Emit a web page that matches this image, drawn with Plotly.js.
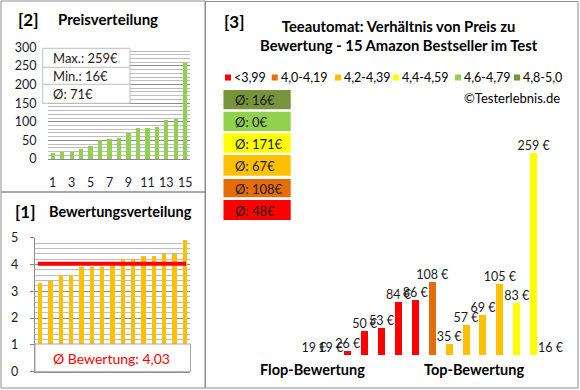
<!DOCTYPE html>
<html><head><meta charset="utf-8">
<script src="https://cdn.plot.ly/plotly-3.0.1.min.js"></script>
<style>html,body{margin:0;padding:0;background:#fff;}#chart{width:580px;height:390px;}</style>
</head><body><div id="chart"></div>
<script>
// ---------- data ----------
const productIndex = [1,2,3,4,5,6,7,8,9,10,11,12,13,14,15];
const productPrices = [19,19,26,50,53,84,86,108,35,57,69,105,83,259,16];
const productRatings = [3.3,3.4,3.6,3.6,3.9,3.9,3.9,4.1,4.2,4.2,4.3,4.3,4.4,4.4,4.9];
const bandLabels = ['<3,99','4,0-4,19','4,2-4,39','4,4-4,59','4,6-4,79','4,8-5,0'];
const bandLower = [0,4.0,4.2,4.4,4.6,4.8];
const priceTickVals = [1,3,5,7,9,11,13,15];

// ---------- styles ----------
const bandColors = ['#FF0000','#E46C0A','#FFC000','#FFFF00','#92D050','#77933C'];
const FONT = 'Lato, "Open Sans", sans-serif';
const W = 580, H = 390;
const px = x => x / W;
const py = y => 1 - y / H;

// ---------- derived ----------
const sortedPrices = productPrices.slice().sort((a,b)=>a-b);
const sortedRatings = productRatings.slice().sort((a,b)=>a-b);
const bandOf = r => { let b = 0; bandLower.forEach((l,i)=>{ if (r >= l - 1e-9) b = i; }); return b; };
const productBands = productRatings.map(bandOf);
const bandAvg = bandLabels.map((_,i)=>{
  const v = productPrices.filter((p,k)=>productBands[k]===i);
  return v.length ? Math.round(v.reduce((a,b)=>a+b,0)/v.length) : 0;
});
const maxPrice = Math.max(...productPrices), minPrice = Math.min(...productPrices);
const avgPrice = Math.round(productPrices.reduce((a,b)=>a+b,0)/productPrices.length);
const avgRating = productRatings.reduce((a,b)=>a+b,0)/productRatings.length;

const yMin3 = 21.7;

const traces = [
  { type:'bar', x: productIndex, y: sortedPrices, xaxis:'x', yaxis:'y',
    marker:{color:'#92D050'}, width:0.45, hoverinfo:'skip' },
  { type:'bar', x: productIndex, y: sortedRatings, xaxis:'x2', yaxis:'y2',
    marker:{color:'#FFC000'}, width:0.42, hoverinfo:'skip' },
  { type:'scatter', mode:'lines', x:[productIndex[0]-0.2, productIndex[productIndex.length-1]+0.1],
    y:[avgRating, avgRating], xaxis:'x2', yaxis:'y2', line:{color:'#FF0000', width:4}, hoverinfo:'skip' },
  { type:'bar', x: productIndex, y: productPrices, xaxis:'x3', yaxis:'y3',
    marker:{color: productBands.map(b=>bandColors[b])}, width:0.41, hoverinfo:'skip' },
  { type:'scatter', mode:'text', x: productIndex, y: productPrices.map(v=>Math.max(v, yMin3)),
    text: productPrices.map(v=>v+' €'), textposition:'top center', cliponaxis:false,
    textfont:{family:FONT, size:12.5, color:'#1a1a1a'}, xaxis:'x3', yaxis:'y3', hoverinfo:'skip' }
];

const tickFont = {family:FONT, size:12.5, color:'#1a1a2a'};
const layout = {
  width:W, height:H, margin:{l:0,r:0,t:0,b:0}, showlegend:false,
  paper_bgcolor:'#fff', plot_bgcolor:'rgba(0,0,0,0)', bargap:0,
  xaxis:{domain:[px(48),px(190)], range:[0.5,15.5], anchor:'y', tickvals:priceTickVals,
    ticks:'outside', ticklen:12, tickcolor:'rgba(0,0,0,0)', tickfont:tickFont,
    showgrid:false, zeroline:false, showline:true, linecolor:'#8a8a8a', fixedrange:true},
  yaxis:{domain:[py(159),py(47.3)], range:[0,300], anchor:'x', dtick:50,
    ticks:'outside', ticklen:8, tickcolor:'rgba(0,0,0,0)', tickfont:tickFont,
    gridcolor:'#8c8c8c', gridwidth:1, zeroline:false, showline:false,
    minor:{dtick:10, showgrid:true, gridcolor:'#bdbdbd', gridwidth:1}},
  xaxis2:{domain:[px(34.8),px(190.2)], range:[0.5,15.5], anchor:'y2', showticklabels:false,
    ticks:'', showgrid:false, zeroline:false, showline:true, linecolor:'#8a8a8a'},
  yaxis2:{domain:[py(371.7),py(237.7)], range:[0,5], anchor:'x2', dtick:1,
    ticks:'outside', ticklen:4, tickcolor:'#8a8a8a', ticklabelstandoff:9, tickfont:tickFont,
    gridcolor:'#8c8c8c', zeroline:false, showline:true, linecolor:'#8a8a8a',
    minor:{dtick:0.2, showgrid:true, gridcolor:'#bdbdbd'}},
  xaxis3:{domain:[px(305.5),px(559)], range:[0.5,15.5], anchor:'y3', visible:false},
  yaxis3:{domain:[py(355),py(100)], range:[yMin3, yMin3+255/0.85], anchor:'x3', visible:false},
  shapes:[], annotations:[]
};

const S = layout.shapes, A = layout.annotations;
// panel borders
S.push({type:'rect', xref:'paper', yref:'paper', x0:px(1), x1:px(205), y0:py(1), y1:py(192), line:{color:'#8c8c8c', width:1}});
S.push({type:'rect', xref:'paper', yref:'paper', x0:px(1), x1:px(205), y0:py(192), y1:py(388), line:{color:'#8c8c8c', width:1}});
S.push({type:'rect', xref:'paper', yref:'paper', x0:px(205.5), x1:px(578), y0:py(1.5), y1:py(388), line:{color:'#8c8c8c', width:1}});

function ann(x, y, text, opt) {
  A.push(Object.assign({xref:'paper', yref:'paper', x:px(x), y:py(y), text:text, showarrow:false,
    xanchor:'left', yanchor:'middle', font:{family:FONT, size:12, color:'#000'}}, opt||{}));
}

// panel [2]
ann(16, 19, '<b>[2]</b>', {font:{family:FONT, size:17, color:'#000'}});
ann(56, 19, '<b>Preisverteilung</b>', {font:{family:FONT, size:15, color:'#000'}});
S.push({type:'rect', xref:'paper', yref:'paper', x0:px(42.7), x1:px(130), y0:py(48.3), y1:py(103.3), fillcolor:'#fff', line:{color:'#bfbfbf', width:1}, layer:'above'});
S.push({type:'line', xref:'paper', yref:'paper', x0:px(42.7), x1:px(130), y0:py(67.3), y1:py(67.3), line:{color:'#bfbfbf', width:1}, layer:'above'});
S.push({type:'line', xref:'paper', yref:'paper', x0:px(42.7), x1:px(130), y0:py(84.3), y1:py(84.3), line:{color:'#bfbfbf', width:1}, layer:'above'});
ann(51, 58.3, 'Max.: ' + maxPrice + '€', {font:{family:FONT, size:13, color:'#2a1a1a'}});
ann(51, 76, 'Min.: ' + minPrice + '€', {font:{family:FONT, size:13, color:'#2a1a1a'}});
ann(51, 94, 'Ø: ' + avgPrice + '€', {font:{family:FONT, size:13, color:'#2a1a1a'}});

// panel [1]
ann(13, 211.5, '<b>[1]</b>', {font:{family:FONT, size:17, color:'#000'}});
ann(47, 211.5, '<b>Bewertungsverteilung</b>', {font:{family:FONT, size:14.5, color:'#000'}});
S.push({type:'rect', xref:'paper', yref:'paper', x0:px(35), x1:px(190.5), y0:py(344), y1:py(371.7), fillcolor:'#fff', line:{color:'#a6a6a6', width:1}, layer:'above'});
ann(111, 358, 'Ø Bewertung: ' + avgRating.toFixed(2).replace('.', ','), {xanchor:'center', font:{family:FONT, size:14, color:'#FF0000'}});

// panel [3]
ann(222, 21, '<b>[3]</b>', {font:{family:FONT, size:17, color:'#000'}});
ann(399, 35.5, '<b>Teeautomat: Verhältnis von Preis zu<br>Bewertung - 15 Amazon Bestseller im Test</b>', {xanchor:'center', align:'center', font:{family:FONT, size:14.8, color:'#000'}});
// legend
const legX = [225, 271.7, 335, 392.7, 455, 514];
bandLabels.forEach((lab,i)=>{
  S.push({type:'rect', xref:'paper', yref:'paper', x0:px(legX[i]), x1:px(legX[i]+6), y0:py(74.5), y1:py(80.5), fillcolor:bandColors[i], line:{width:0}});
  ann(legX[i]+7, 77.5, lab, {font:{family:FONT, size:12.5, color:'#000'}});
});
ann(562, 98.3, '©Testerlebnis.de', {xanchor:'right', font:{family:FONT, size:13, color:'#000'}});
// average boxes (top: best band)
const boxTops = [90, 111.7, 133.3, 155, 179, 200];
const boxBottoms = [109.3, 131, 152.7, 175.7, 197.3, 220];
for (let k = 0; k < 6; k++) {
  const b = 5 - k;
  S.push({type:'rect', xref:'paper', yref:'paper', x0:px(223.5), x1:px(290.7), y0:py(boxTops[k]), y1:py(boxBottoms[k]), fillcolor:bandColors[b], line:{width:0}});
  ann(233, (boxTops[k]+boxBottoms[k])/2 + 0.5, 'Ø: ' + bandAvg[b] + '€', {font:{family:FONT, size:13, color:'#1a1a1a'}});
}
ann(312.5, 369, '<b>Flop-Bewertung</b>', {xanchor:'center', font:{family:FONT, size:14.5, color:'#000'}});
ann(474, 369, '<b>Top-Bewertung</b>', {xanchor:'center', font:{family:FONT, size:14.5, color:'#000'}});

Plotly.newPlot('chart', traces, layout, {staticPlot:true, displayModeBar:false});
</script>
</body></html>
